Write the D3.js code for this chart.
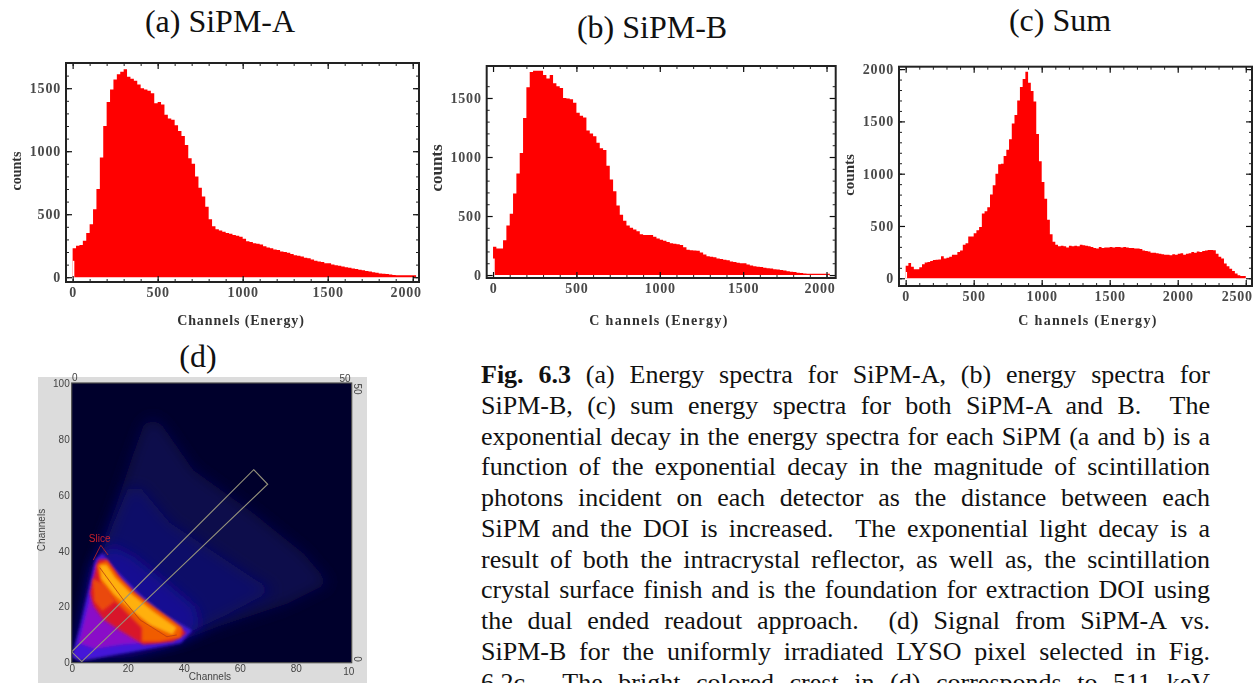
<!DOCTYPE html>
<html>
<head>
<meta charset="utf-8">
<script src="https://cdn.jsdelivr.net/npm/d3@7"></script>
<style>
  html, body { margin: 0; padding: 0; background: #fff; overflow: hidden; }
  svg { display: block; }
  text { font-family: "Liberation Serif", "Times New Roman", serif; }
  .caption { white-space: pre; fill: #111; }
</style>
</head>
<body>
<div id="chart"></div>
<script>
// Counts per 20-channel bin
const binWidth = 20;
const countsA = [230, 250, 255, 290, 350, 420, 540, 700, 950, 1200, 1390, 1490, 1570, 1610, 1630, 1650, 1590, 1575, 1560, 1530, 1500, 1490, 1480, 1460, 1380, 1390, 1370, 1290, 1260, 1250, 1205, 1160, 1120, 1050, 945, 900, 800, 710, 640, 560, 460, 405, 380, 370, 360, 350, 345, 335, 330, 322, 305, 285, 280, 270, 265, 260, 245, 235, 230, 220, 215, 205, 200, 195, 185, 175, 170, 165, 155, 150, 140, 130, 125, 120, 110, 110, 100, 95, 90, 85, 80, 75, 70, 65, 60, 55, 50, 45, 40, 35, 30, 28, 25, 22, 18, 15, 15, 15, 15, 15, 15];
const countsB = [240, 225, 225, 295, 420, 520, 690, 860, 1035, 1330, 1590, 1720, 1730, 1730, 1730, 1695, 1665, 1695, 1625, 1600, 1585, 1500, 1495, 1490, 1460, 1375, 1350, 1335, 1225, 1200, 1175, 1120, 1075, 1060, 925, 810, 710, 590, 510, 460, 420, 400, 385, 370, 345, 340, 340, 340, 325, 310, 300, 290, 280, 270, 265, 260, 255, 235, 215, 210, 208, 205, 190, 175, 160, 155, 150, 140, 135, 130, 125, 115, 110, 105, 100, 100, 90, 80, 75, 70, 68, 62, 58, 55, 50, 48, 42, 38, 32, 28, 25, 20, 18, 14, 12, 12, 12, 12, 12, 12, 12];
const countsC = [120, 145, 110, 85, 85, 105, 135, 150, 155, 165, 175, 178, 180, 210, 190, 195, 205, 225, 225, 250, 265, 320, 335, 400, 400, 430, 460, 490, 620, 640, 680, 800, 890, 1000, 1090, 1095, 1170, 1230, 1330, 1480, 1560, 1700, 1830, 1905, 1975, 1870, 1790, 1690, 1380, 1120, 920, 760, 560, 420, 350, 320, 305, 310, 305, 295, 310, 305, 310, 305, 320, 315, 310, 305, 300, 290, 285, 300, 290, 295, 295, 300, 295, 300, 300, 295, 300, 295, 290, 290, 285, 285, 280, 265, 260, 255, 245, 245, 240, 235, 230, 225, 225, 220, 230, 225, 235, 240, 225, 235, 240, 250, 245, 255, 250, 260, 265, 270, 270, 268, 235, 205, 190, 140, 115, 90, 70, 45, 28, 22, 22];
const xTicksSpectra = [0, 500, 1000, 1500, 2000];
const xTicksSum = [0, 500, 1000, 1500, 2000, 2500];
const yTicksA = [0, 500, 1000, 1500];
const yTicksC = [0, 500, 1000, 1500, 2000];

// Scatter (d): intensity outlines in channel units, faintest first
const heatOuter = [[0, 1], [3, 14], [8, 35], [16, 57], [22, 75], [25.6, 85], [29, 87.5], [32.7, 84.5], [43.5, 69], [65, 53.5], [83, 39], [92, 28.4], [77, 21], [53, 13], [40, 8], [17, 3], [5, 0]];
const heatMiddle = [[2, 3], [8, 32], [15, 50], [20, 62], [25, 62], [35, 50], [50, 40], [65, 30], [72, 26], [55, 17], [40, 10], [20, 4]];
const heatInner = [[2, 3], [8, 34], [14, 42], [22, 38], [32, 30], [44, 20], [46, 13], [36, 7], [20, 3.5]];
const heatPurple = [[0, 2], [3, 13], [8.5, 37], [11, 39], [16, 33], [24.4, 24.5], [32.7, 17.5], [43, 11.5], [39, 7], [19.6, 3.6], [3, 0.6]];
const heatViolet = [[2.5, 7], [6, 21], [8.5, 35], [12, 37], [18, 28], [28, 19], [40, 11], [31, 7.5], [18, 6.5], [8, 5]];
const heatRed = [[6.5, 25], [9.5, 37], [12.5, 37], [18, 29.5], [25, 22.5], [35, 15.5], [41, 10.5], [36, 7.5], [25.6, 6.5], [17.3, 11.5], [11.3, 15.5], [8, 20]];
const heatOrange = [[9, 35], [12.5, 36.5], [16.5, 31], [22.5, 25], [30.5, 19], [39.5, 12.5], [39, 9], [31, 7.5], [25, 7.5], [25, 12.5], [20, 17.5], [15, 22.5], [10.5, 28]];
const heatOrangePatch = [[7.5, 30], [12, 28], [15.5, 22], [11, 18.5], [8, 22]];
const heatYellow = [[10, 35], [12.5, 35], [15.5, 30.5], [21.5, 24.5], [29, 18.5], [37.5, 12.5], [36, 10], [28, 13.5], [21, 19], [15, 24.5], [10.5, 30]];
const heatLayers = [heatOuter, heatMiddle, heatInner, heatPurple, heatViolet, heatRed, heatOrange, heatOrangePatch, heatYellow];
const heatColors = ["#08074c", "#0c0a68", "#150e92", "#4418d8", "#8a10c8", "#d8142c", "#f05c06", "#ea4a0a", "#ffb00a"];
const heatBlurs = ["blurWide", "blurWide", "blurWide", "blurFine", "blurFine", "blurFine", "blurFine", "blurFine", "blurFine"];
const roiBox = [[65, 69], [70, 63.8], [3.6, 0.4], [0, 3.9]];
const sliceLine = [[7.7, 36.7], [10.4, 42], [13, 38.5]];
const crestLine = [[10, 34], [18.5, 22.4], [24.4, 15.3], [34, 9.3], [37.5, 9.9]];
const heatTicks = [0, 20, 40, 60, 80];

const captionLines = [
  [["Fig. 6.3", true], [" (a) Energy spectra for SiPM-A, (b) energy spectra for", false]],
  [["SiPM-B, (c) sum energy spectra for both SiPM-A and B.  The", false]],
  [["exponential decay in the energy spectra for each SiPM (a and b) is a", false]],
  [["function of the exponential decay in the magnitude of scintillation", false]],
  [["photons incident on each detector as the distance between each", false]],
  [["SiPM and the DOI is increased.  The exponential light decay is a", false]],
  [["result of both the intracrystal reflector, as well as, the scintillation", false]],
  [["crystal surface finish and is the foundation for extraction DOI using", false]],
  [["the dual ended readout approach.  (d) Signal from SiPM-A vs.", false]],
  [["SiPM-B for the uniformly irradiated LYSO pixel selected in Fig.", false]],
  [["6.2c.  The bright colored crest in (d) corresponds to 511 keV", false]]
];

const width = 1256;
const height = 683;

const svg = d3.select("#chart")
  .append("svg")
  .attr("width", width)
  .attr("height", height)
  .attr("viewBox", [0, 0, width, height]);

svg.append("rect").attr("width", width).attr("height", height).attr("fill", "#fff");

const defs = svg.append("defs");
function addBlur(id, amount) {
  defs.append("filter").attr("id", id)
    .attr("x", "-20%").attr("y", "-20%").attr("width", "140%").attr("height", "140%")
    .append("feGaussianBlur").attr("stdDeviation", amount);
}
addBlur("soft", 0.6);
addBlur("blurFine", 1.6);
addBlur("blurWide", 7);

// One spectrum panel with a framed plot and inward ticks on all four sides
function drawSpectrum(cfg) {
  const g = svg.append("g").attr("filter", "url(#soft)");
  const x = d3.scaleLinear().domain(cfg.xDomain).range([cfg.left, cfg.right]);
  const y = d3.scaleLinear().domain(cfg.yDomain).range([cfg.bottom, cfg.top]);

  const bins = cfg.counts.map((c, i) => ({ start: i * binWidth, count: c }));
  const steps = bins.flatMap(b => [[b.start, b.count], [b.start + binWidth, b.count]]);
  g.append("path")
    .datum(steps)
    .attr("fill", "#ff0000")
    .attr("d", d3.area().x(d => x(d[0])).y0(y(0)).y1(d => y(d[1])));

  // the first few channels do not reach the baseline
  g.append("rect")
    .attr("x", x(0)).attr("y", y(cfg.notch))
    .attr("width", x(10) - x(0)).attr("height", y(0) - y(cfg.notch))
    .attr("fill", "#fff");

  const xMinor = d3.range(0, cfg.xTicks[cfg.xTicks.length - 1] + 1, 100);
  const yMinor = d3.range(0, cfg.yTicks[cfg.yTicks.length - 1] + 150, 100).filter(v => v <= cfg.yDomain[1]);

  const axes = [
    [d3.axisBottom, x, cfg.bottom, "x", true],
    [d3.axisTop, x, cfg.top, "x", false],
    [d3.axisLeft, y, cfg.left, "y", true],
    [d3.axisRight, y, cfg.right, "y", false]
  ];
  axes.forEach(([axis, scale, pos, dir, labelled]) => {
    const translate = dir === "x" ? `translate(0,${pos})` : `translate(${pos},0)`;
    g.append("g").attr("transform", translate)
      .call(axis(scale).tickValues(dir === "x" ? xMinor : yMinor).tickSize(-3).tickFormat(""))
      .call(s => s.select(".domain").remove())
      .call(s => s.selectAll("line").attr("stroke", "#222"));
    const major = g.append("g").attr("transform", translate)
      .call(axis(scale).tickValues(dir === "x" ? cfg.xTicks : cfg.yTicks).tickSize(-6).tickPadding(5)
        .tickFormat(labelled ? d3.format("d") : ""))
      .call(s => s.select(".domain").remove())
      .call(s => s.selectAll("line").attr("stroke", "#111").attr("stroke-width", 1.2))
      .call(s => s.selectAll("text")
        .attr("font-size", 14)
        .attr("font-weight", "bold")
        .attr("letter-spacing", 0.8)
        .attr("fill", "#4a4a4a"));
    // the last x label sits clear of the frame corner
    if (labelled && dir === "x") {
      major.selectAll("text").filter(d => d === cfg.xTicks[cfg.xTicks.length - 1]).attr("dx", cfg.lastLabelShift);
    }
  });

  g.append("rect")
    .attr("x", cfg.left).attr("y", cfg.top)
    .attr("width", cfg.right - cfg.left).attr("height", cfg.bottom - cfg.top)
    .attr("fill", "none").attr("stroke", "#222").attr("stroke-width", 2);

  g.append("text")
    .attr("x", cfg.xLabelX).attr("y", cfg.xLabelY)
    .attr("text-anchor", "middle")
    .attr("font-size", 14).attr("font-weight", "bold").attr("letter-spacing", cfg.xLabelSpacing)
    .attr("fill", "#333")
    .text(cfg.xLabel);

  g.append("text")
    .attr("transform", `translate(${cfg.yLabelX},${cfg.yLabelY}) rotate(-90)`)
    .attr("text-anchor", "middle")
    .attr("font-size", cfg.yLabelSize).attr("font-weight", "bold")
    .attr("fill", "#333")
    .text("counts");

  svg.append("text")
    .attr("x", cfg.titleX).attr("y", cfg.titleY)
    .attr("text-anchor", "middle")
    .attr("font-size", 32)
    .attr("fill", "#111")
    .text(cfg.title);
}

drawSpectrum({
  counts: countsA, notch: 130, xTicks: xTicksSpectra, yTicks: yTicksA,
  xDomain: [-39, 2037], yDomain: [-38, 1700], lastLabelShift: -7,
  left: 66, right: 419, top: 63, bottom: 282,
  xLabel: "Channels (Energy)", xLabelX: 241, xLabelY: 325, xLabelSpacing: 0.9,
  yLabelX: 21, yLabelY: 171, yLabelSize: 14,
  title: "(a) SiPM-A", titleX: 220, titleY: 32
});

drawSpectrum({
  counts: countsB, notch: 140, xTicks: xTicksSpectra, yTicks: yTicksA,
  xDomain: [-38, 2055], yDomain: [-25, 1771], lastLabelShift: -7,
  left: 486.7, right: 835.7, top: 66, bottom: 278,
  xLabel: "C hannels (Energy)", xLabelX: 659, xLabelY: 325, xLabelSpacing: 1.3,
  yLabelX: 442, yLabelY: 168, yLabelSize: 17,
  title: "(b) SiPM-B", titleX: 652, titleY: 38
});

drawSpectrum({
  counts: countsC, notch: 60, xTicks: xTicksSum, yTicks: yTicksC,
  xDomain: [-49, 2546], yDomain: [-74, 2023], lastLabelShift: -9,
  left: 899, right: 1252, top: 66.7, bottom: 286,
  xLabel: "C hannels (Energy)", xLabelX: 1088, xLabelY: 325, xLabelSpacing: 1.3,
  yLabelX: 854, yLabelY: 175, yLabelSize: 15,
  title: "(c) Sum", titleX: 1060, titleY: 31
});

// Panel (d): SiPM-A vs SiPM-B
function drawScatter() {
  const left = 71.7, right = 351.7, top = 383, bottom = 662.7;
  const x = d3.scaleLinear().domain([0, 100]).range([left, right]);
  const y = d3.scaleLinear().domain([0, 100]).range([bottom, top]);

  svg.append("text")
    .attr("x", 198).attr("y", 367)
    .attr("text-anchor", "middle")
    .attr("font-size", 32).attr("fill", "#111")
    .text("(d)");

  svg.append("rect")
    .attr("x", 38).attr("y", 377).attr("width", 329).attr("height", 306)
    .attr("fill", "#dcdcdc");

  defs.append("clipPath").attr("id", "plotClip")
    .append("rect")
    .attr("x", left).attr("y", top).attr("width", right - left).attr("height", bottom - top);

  const g = svg.append("g").attr("clip-path", "url(#plotClip)");
  g.append("rect")
    .attr("x", left).attr("y", top).attr("width", right - left).attr("height", bottom - top)
    .attr("fill", "#00002c");

  const outline = d3.line().x(d => x(d[0])).y(d => y(d[1])).curve(d3.curveLinearClosed);
  g.selectAll("path.heat")
    .data(heatLayers)
    .join("path")
    .attr("class", "heat")
    .attr("d", outline)
    .attr("fill", (d, i) => heatColors[i])
    .attr("filter", (d, i) => `url(#${heatBlurs[i]})`);

  const straight = d3.line().x(d => x(d[0])).y(d => y(d[1]));
  const overlay = svg.append("g").attr("filter", "url(#soft)").attr("fill", "none");
  overlay.append("path").attr("d", straight(roiBox) + "Z").attr("stroke", "#97947c").attr("stroke-width", 1.1);
  overlay.append("path").attr("d", straight(sliceLine)).attr("stroke", "#c8281e").attr("stroke-width", 0.8);
  overlay.append("path").attr("d", straight(crestLine)).attr("stroke", "#b83a10").attr("stroke-width", 0.8);

  svg.append("text")
    .attr("x", x(10)).attr("y", y(43))
    .attr("text-anchor", "middle")
    .style("font-family", "Liberation Sans").attr("font-size", 10).attr("fill", "#c8202a")
    .attr("filter", "url(#soft)")
    .text("Slice");

  svg.append("rect")
    .attr("x", left).attr("y", top).attr("width", right - left).attr("height", bottom - top)
    .attr("fill", "none").attr("stroke", "#4a4a4a").attr("stroke-width", 1.2);

  const labels = svg.append("g").attr("filter", "url(#soft)");
  const sans = s => s.style("font-family", "Liberation Sans").attr("font-size", 10).attr("fill", "#444");

  labels.append("g").attr("transform", `translate(0,${bottom})`)
    .call(d3.axisBottom(x).tickValues(heatTicks).tickSize(0).tickPadding(2))
    .call(s => s.select(".domain").remove())
    .call(s => s.selectAll("text").call(sans));
  labels.append("g").attr("transform", `translate(${left},0)`)
    .call(d3.axisLeft(y).tickValues(heatTicks.concat([100])).tickSize(0).tickPadding(2))
    .call(s => s.select(".domain").remove())
    .call(s => s.selectAll("text").call(sans));

  labels.append("text").attr("x", x(100) - 3).attr("y", bottom + 12).attr("text-anchor", "middle").call(sans).text("10");
  labels.append("text").attr("x", 210).attr("y", 680).attr("text-anchor", "middle").call(sans).text("Channels");
  labels.append("text").attr("transform", "translate(45,530) rotate(-90)").attr("text-anchor", "middle").call(sans).text("Channels");
  labels.append("text").attr("x", left + 3).attr("y", 381).attr("text-anchor", "middle").call(sans).text("0");
  labels.append("text").attr("x", 345).attr("y", 382).attr("text-anchor", "middle").call(sans).text("50");
  labels.append("text").attr("transform", "translate(354,389) rotate(90)").attr("text-anchor", "middle").call(sans).text("50");
  labels.append("text").attr("transform", "translate(354,659) rotate(90)").attr("text-anchor", "middle").call(sans).text("0");
}
drawScatter();

// Justified caption beside panel (d)
const captionLeft = 481;
const captionWidth = 729;
const captionFirst = 383;
const captionStep = 30.75;

captionLines.forEach((parts, i) => {
  const t = svg.append("text")
    .attr("class", "caption")
    .attr("x", captionLeft)
    .attr("y", captionFirst + i * captionStep)
    .attr("font-size", 26);
  parts.forEach(([str, bold]) => {
    t.append("tspan").attr("font-weight", bold ? "bold" : "normal").text(str);
  });
  const spaces = parts.map(p => p[0]).join("").split(" ").length - 1;
  const natural = t.node().getComputedTextLength();
  t.attr("word-spacing", (captionWidth - natural) / spaces);
});
</script>
</body>
</html>
